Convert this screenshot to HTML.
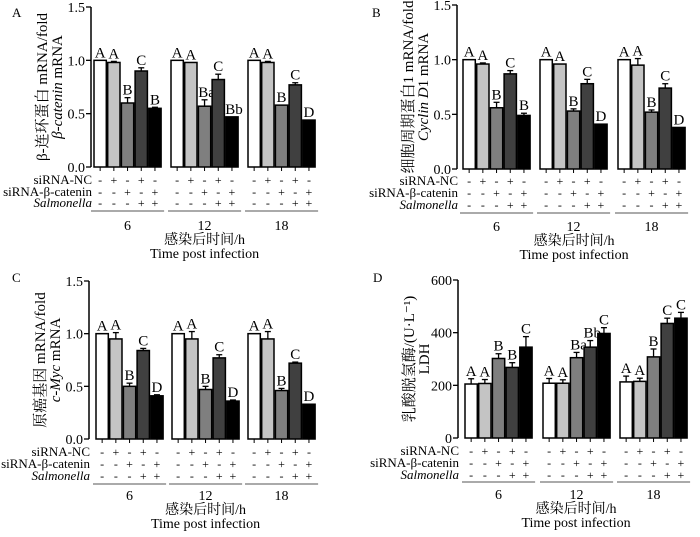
<!DOCTYPE html>
<html><head><meta charset="utf-8"><style>
html,body{margin:0;padding:0;background:#fff}
svg text{font-family:"Liberation Serif","Noto Serif CJK SC",serif;fill:#000}
</style></head><body>
<svg id="fig" width="700" height="532" viewBox="0 0 700 532" xmlns="http://www.w3.org/2000/svg"></svg>
<script>
const groupLabels = ["6","12","18"];
const rowNames = ["siRNA-NC","siRNA-β-catenin","Salmonella"];
const rowSigns = [["-","+","-","+","-"],["-","-","+","-","+"],["-","-","-","+","+"]];
const barColors = ["#ffffff","#c4c4c4","#7f7f7f","#404040","#000000"];

const valuesA = [[1.0,0.98,0.60,0.90,0.55],[1.0,0.98,0.57,0.82,0.47],[1.0,0.98,0.58,0.77,0.44]];
const errorsA = [[0,0.01,0.05,0.03,0.01],[0,0,0.06,0.05,0],[0,0.01,0,0.02,0]];
const lettersA = [["A","A","B","C","B"],["A","A","Ba","C","Bb"],["A","A","B","C","D"]];

const valuesB = [[1.0,0.96,0.56,0.87,0.49],[1.0,0.96,0.53,0.78,0.41],[1.0,0.95,0.52,0.74,0.38]];
const errorsB = [[0,0.01,0.05,0.03,0.02],[0,0,0.02,0.04,0],[0,0.06,0.02,0.04,0]];
const lettersB = [["A","A","B","C","B"],["A","A","B","C","D"],["A","A","B","C","D"]];

const valuesC = [[1.0,0.95,0.50,0.84,0.41],[1.0,0.95,0.47,0.77,0.36],[1.0,0.95,0.46,0.72,0.33]];
const errorsC = [[0,0.06,0.03,0.02,0.01],[0,0.07,0.03,0.03,0.01],[0,0.07,0.02,0.01,0]];
const lettersC = [["A","A","B","C","D"],["A","A","B","C","D"],["A","A","B","C","D"]];

const valuesD = [[205,207,302,268,345],[208,208,305,345,397],[213,215,308,435,455]];
const errorsD = [[20,15,18,18,40],[18,13,20,25,22],[22,12,30,20,22]];
const lettersD = [["A","A","B","B","C"],["A","A","Ba","Bb","C"],["A","A","B","C","C"]];

const ticksRel = ["0.0","0.5","1.0","1.5"];
const ticksLDH = ["0","200","400","600"];

const NS="http://www.w3.org/2000/svg";
const svg=document.getElementById('fig');
function mk(tag,attrs,parent){const e=document.createElementNS(NS,tag);for(const k in attrs)e.setAttribute(k,attrs[k]);(parent||svg).appendChild(e);return e;}
function txt(s,attrs,parent){const e=mk('text',attrs,parent);e.textContent=s;return e;}

function panel(p){
  const g=mk('g',{});
  
  
  const ymax=p.ymax;
  const y=v=>p.y0-(v/ymax)*(p.y0-p.yTop);
  const pitch=13.7, bw=12.3;
  const xb=(gi,bi)=>p.gx[gi]+bi*pitch;
  const pl=txt(p.letter,{x:p.lx,y:p.ly,'font-size':13},g);
  
  
  const ax=mk('line',{x1:p.ax,y1:p.yTop,x2:p.ax,y2:p.y0,stroke:'#000','stroke-width':1.5},g);
  
  
  p.ticks.forEach(t=>{
    const v=parseFloat(t), yy=y(v);
    mk('line',{x1:p.ax-5,y1:yy,x2:p.ax,y2:yy,stroke:'#000','stroke-width':1.3},g);
    const tl=txt(t,{x:p.ax-6,y:yy+5,'font-size':14,'text-anchor':'end'},g);
    
    
  });
  const cy=(p.yTop+p.y0)/2;
  const t1=txt(p.yt1,{x:0,y:0,'font-size':15,'text-anchor':'middle',transform:`translate(${p.ax-44},${cy}) rotate(-90)`},g);
  
  
  const t2=mk('text',{x:0,y:0,'font-size':15,'text-anchor':'middle',transform:`translate(${p.ax-29},${cy}) rotate(-90)`},g);
  t2.innerHTML=p.yt2;
  
  
  p.values.forEach((grp,gi)=>{
    grp.forEach((v,bi)=>{
      const x=xb(gi,bi), top=y(v), e=p.errors[gi][bi];
      if(e>0){
        const ey=y(v+e);
        mk('line',{x1:x+bw/2,y1:ey,x2:x+bw/2,y2:top,stroke:'#000','stroke-width':1.3},g);
        mk('line',{x1:x+bw/2-3,y1:ey,x2:x+bw/2+3,y2:ey,stroke:'#000','stroke-width':1.3},g);
      }
      const r=mk('rect',{x:x,y:top,width:bw,height:p.y0-top,fill:barColors[bi],stroke:'#000','stroke-width':1.5},g);
      
      
      mk('line',{x1:x+bw/2,y1:p.y0,x2:x+bw/2,y2:p.y0+4,stroke:'#000','stroke-width':1},g);
      const lt=txt(p.letters[gi][bi],{x:x+bw/2+(p.letters[gi][bi].length>1?2:0),y:y(v+e)-3,'font-size':15,'text-anchor':'middle'},g);
      
      
      rowSigns.forEach((row,ri)=>{
        txt(row[bi],{x:x+bw/2,y:p.rows[ri]+4,'font-size':12,'text-anchor':'middle'},g);
      });
    });
    const x0=xb(gi,0)-3, x1=xb(gi,4)+bw+3;
    mk('line',{x1:x0,y1:p.lineY,x2:x1,y2:p.lineY,stroke:'#555','stroke-width':1},g);
    const gl=txt(groupLabels[gi],{x:(x0+x1)/2,y:p.numY+5,'font-size':14,'text-anchor':'middle'},g);
    
    
  });
  rowNames.forEach((n,ri)=>{
    const rl=txt(n,{x:p.ax+1,y:p.rows[ri]+4,'font-size':13,'text-anchor':'end','font-style':ri==2?'italic':'normal'},g);
    
    
  });
  const mid=(p.gx[0]+p.gx[2]+4*pitch+bw)/2;
  const xt1=txt('感染后时间/h',{x:mid,y:p.numY+19,'font-size':14,'text-anchor':'middle'},g);
  
  
  const xt2=txt('Time post infection',{x:mid,y:p.numY+33,'font-size':14,'text-anchor':'middle'},g);
  
  
}

panel({letter:'A',lx:12,ly:17,ax:91,yTop:7,y0:167,ymax:1.5,ticks:ticksRel,gx:[94,171,248],
  rows:[180,192,203],lineY:211,numY:225,values:valuesA,errors:errorsA,letters:lettersA,
  yt1:'β-连环蛋白 mRNA/fold',yt2:'<tspan font-style="italic">β-catenin</tspan> mRNA'});
panel({letter:'B',lx:372,ly:17,ax:457,yTop:5,y0:169,ymax:1.5,ticks:ticksRel,gx:[463,540,618],
  rows:[181,193,205],lineY:213,numY:226,values:valuesB,errors:errorsB,letters:lettersB,
  yt1:'细胞周期蛋白1 mRNA/fold',yt2:'<tspan font-style="italic">Cyclin D</tspan>1 mRNA'});
panel({letter:'C',lx:12,ly:282,ax:89,yTop:281,y0:439,ymax:1.5,ticks:ticksRel,gx:[96,172,248],
  rows:[452,464,476],lineY:484,numY:495,values:valuesC,errors:errorsC,letters:lettersC,
  yt1:'原癌基因 mRNA/fold',yt2:'<tspan font-style="italic">c-Myc</tspan> mRNA'});
panel({letter:'D',lx:373,ly:282,ax:458,yTop:280,y0:438,ymax:600,ticks:ticksLDH,gx:[465,543,620],
  rows:[451,463,475],lineY:482,numY:494,values:valuesD,errors:errorsD,letters:lettersD,
  yt1:'乳酸脱氢酶/(U·L⁻¹)',yt2:'LDH'});
</script>
</body></html>
